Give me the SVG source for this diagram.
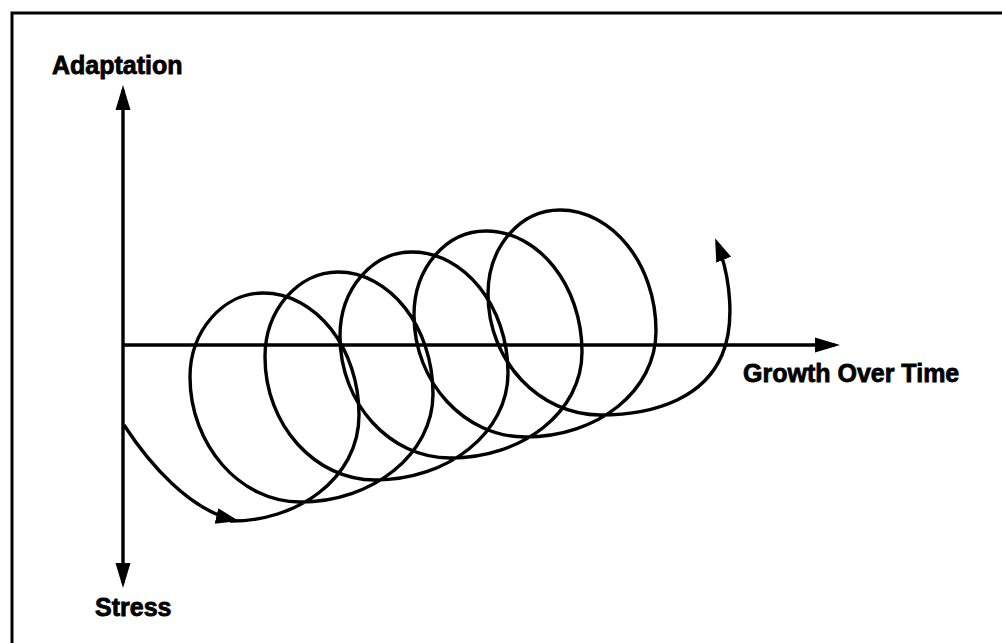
<svg xmlns="http://www.w3.org/2000/svg" width="1002" height="643" viewBox="0 0 1002 643">
<defs>
<style>
.frame{fill:none;stroke:#000;stroke-width:3}
.axis{fill:none;stroke:#000;stroke-width:3.4}
.curve{fill:none;stroke:#000;stroke-width:3.4;stroke-linejoin:round}
.lbl{font-family:"Liberation Sans",Arial,sans-serif;font-weight:bold;font-size:25px;fill:#000;stroke:#000;stroke-width:0.8}
</style>
<marker id="axArrow" markerUnits="userSpaceOnUse" markerWidth="26" markerHeight="18" viewBox="0 0 26 18" refX="20" refY="9" orient="auto-start-reverse">
<path d="M0,1.5 L25,9 L0,16.5 Z" fill="#000"/>
</marker>
<marker id="cvArrow" markerUnits="userSpaceOnUse" markerWidth="24" markerHeight="18" viewBox="0 0 24 18" refX="18" refY="9" orient="auto">
<path d="M0,1 L23,9 L0,17 Z" fill="#000"/>
</marker>
</defs>
<rect width="1002" height="643" fill="#fff"/>
<g id="frame">
<path class="frame" d="M12,643 L12,13 L1002,13"/>
</g>
<g id="connectors">
<line id="y-axis" class="axis" x1="123" y1="90" x2="123" y2="583" marker-start="url(#axArrow)" marker-end="url(#axArrow)"/>
<line id="x-axis" class="axis" x1="122" y1="345" x2="835" y2="345" marker-end="url(#axArrow)"/>
<path id="start-curve" class="curve" d="M124,425 C150,465 190,510 234,520" marker-end="url(#cvArrow)"/>
<path id="spiral" class="curve" marker-end="url(#cvArrow)" d="M230,521
C295,522 359,480 359,415
C359,348 316,293 263,293
C223,293 190,331 190,377
C190,445 240,502 300,502
C373,502 433,454 433,394
C433,327 390,272 338,272
C298,272 265,310 265,357
C265,425 315,480 375,480
C448,480 508,433 508,373
C508,306 464,252 412,252
C372,252 340,289 340,336
C340,404 390,458 450,458
C523,458 582,412 582,352
C582,285 538,231 486,231
C446,231 414,268 414,315
C414,383 465,437 525,437
C598,437 656,391 656,331
C656,264 612,210 560,210
C520,210 488,247 488,294
C488,362 540,415 600,415
C660,415 705,395 722,355
C735,325 731,278 717,243"/>
</g>
<g id="node-adaptation">
<text class="lbl" x="52" y="74">Adaptation</text>
</g>
<g id="node-growth">
<text class="lbl" x="743" y="382">Growth Over Time</text>
</g>
<g id="node-stress">
<text class="lbl" x="95" y="616">Stress</text>
</g>
</svg>
